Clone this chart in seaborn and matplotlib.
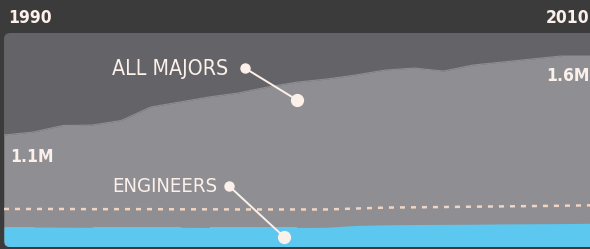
import matplotlib
matplotlib.use('Agg')
import matplotlib.pyplot as plt
import seaborn as sns
import pandas as pd
from matplotlib.patches import FancyBboxPatch

sns.set_theme(style='white')
plt.rcParams['font.family'] = ['DejaVu Sans']
plt.rcParams['font.stretch'] = 'condensed'

# data
years = list(range(1990, 2011))
# all majors, bachelor's degrees (millions)
all_majors = [1.100, 1.119, 1.160, 1.163, 1.192, 1.277, 1.309, 1.341, 1.366, 1.404,
              1.435, 1.454, 1.480, 1.511, 1.524, 1.505, 1.543, 1.562, 1.581, 1.600, 1.600]
# engineers (thousands)
engineers = [65, 65, 64.5, 64, 64, 64, 64, 63.5, 63.5, 63.5,
             63.5, 64, 70, 72, 73, 73.5, 74, 75, 75.5, 76, 77]
# dashed reference line (thousands)
engineers_pace = [123.5, 123.5, 123.5, 123, 123, 123, 122.5, 122.5, 122, 122,
                  122, 122, 125, 128, 129, 130, 131, 132, 133, 134, 135.5]

df = pd.DataFrame({'year': years, 'all_majors': all_majors,
                   'engineers': engineers, 'pace': engineers_pace})

BG = '#3b3b3b'
PANEL = '#646468'
AREA = '#8f8f93'
BLUE = '#5cc8f0'
TXT = '#fcf0ea'

fig = plt.figure(figsize=(5.9, 2.49), dpi=100, facecolor=BG)
ax = fig.add_axes([4/590, 2/249, 586/590, 214/249])
ax.set_xlim(1990, 2010)
ax.set_ylim(0.391, 1.746)

panel = FancyBboxPatch((0, 0), 1.05, 1, boxstyle='round,pad=0,rounding_size=0.011',
                       mutation_aspect=2.7, transform=ax.transAxes,
                       fc=PANEL, ec='none', clip_on=False, zorder=0)
ax.add_patch(panel)

area = ax.fill_between(df['year'], 0.391, df['all_majors'], color=AREA, lw=0, zorder=1)
area.set_clip_path(panel)
sns.lineplot(data=df, x='year', y='all_majors', ax=ax, color=AREA, lw=0.8, zorder=2)
ax.axis('off')

# engineers on their own scale
ax2 = ax.twinx()
ax2.set_ylim(0, 695.5)
blue = ax2.fill_between(df['year'], 0, df['engineers'], color=BLUE, lw=0, zorder=1)
blue.set_clip_path(panel)
sns.lineplot(data=df, x='year', y='pace', ax=ax2, color='#f2d4c2', lw=1.8,
             linestyle=(0, (2, 2.4)), zorder=2)
ax2.axis('off')

# labels with pointer dots (on the top axes so nothing covers them)
def pointer(label, tx, ty, dx0, dy0, dx1, dy1, size):
    ax2.text(tx, ty, label, transform=ax2.transAxes, color=TXT, fontsize=size,
             fontweight='light', va='center', ha='left')
    ax2.plot([dx0, dx1], [dy0, dy1], transform=ax2.transAxes, color=TXT, lw=1.4,
             zorder=5)
    ax2.plot([dx0], [dy0], 'o', transform=ax2.transAxes, color=TXT, ms=6.5, zorder=6)
    ax2.plot([dx1], [dy1], 'o', transform=ax2.transAxes, color=TXT, ms=8.5, zorder=6)

pointer('ALL MAJORS', 0.184, 0.832, 0.411, 0.836, 0.500, 0.687, 15.3)
pointer('ENGINEERS', 0.184, 0.285, 0.384, 0.285, 0.478, 0.047, 14.6)

ax2.text(0.010, 0.42, '1.1M', transform=ax2.transAxes, color=TXT, fontsize=12.5,
         fontweight='bold', va='center', ha='left')
ax2.text(0.9985, 0.80, '1.6M', transform=ax2.transAxes, color=TXT, fontsize=12.5,
         fontweight='bold', va='center', ha='right')

fig.text(8/590, 1 - 18/249, '1990', color=TXT, fontsize=12.5, fontweight='bold',
         va='center', ha='left')
fig.text(589/590, 1 - 18/249, '2010', color=TXT, fontsize=12.5, fontweight='bold',
         va='center', ha='right')

fig.savefig('out.png', dpi=100, facecolor=BG)
